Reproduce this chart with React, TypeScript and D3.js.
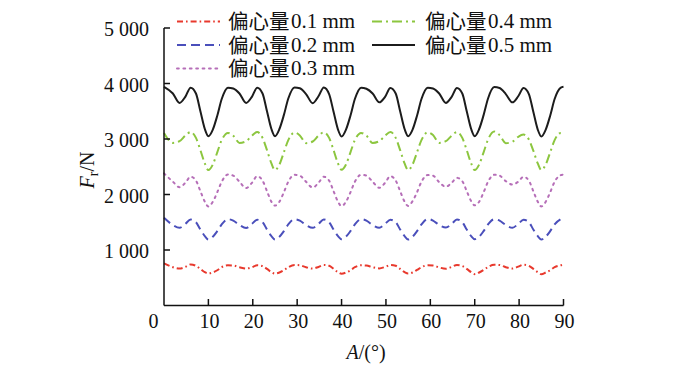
import React from "react";
import * as d3 from "d3";

const angles = [
  0, 2, 3.5, 4.8, 6, 7.2, 8.2, 9.2, 10,
  11, 12, 13, 14.4, 15.6, 17, 18.5, 19.8, 21, 22.2, 23.2, 24.2, 25,
  26, 27, 28, 29.4, 30.6, 32, 33.5, 34.8, 36, 37.2, 38.2, 39.2, 40,
  41, 42, 43, 44.4, 45.6, 47, 48.5, 49.8, 51, 52.2, 53.2, 54.2, 55,
  56, 57, 58, 59.4, 60.6, 62, 63.5, 64.8, 66, 67.2, 68.2, 69.2, 70,
  71, 72, 73, 74.4, 75.6, 77, 78.5, 79.8, 81, 82.2, 83.2, 84.2, 85,
  86, 87, 88, 89.4, 90,
];

const ecc05 = [
  3940, 3820, 3650, 3760, 3925, 3820, 3500, 3180, 3050,
  3170, 3420, 3720, 3925, 3910, 3820, 3650, 3760, 3925, 3820, 3500, 3180, 3050,
  3180, 3430, 3730, 3930, 3915, 3810, 3645, 3770, 3930, 3810, 3490, 3170, 3045,
  3170, 3420, 3720, 3925, 3905, 3820, 3660, 3760, 3920, 3820, 3500, 3180, 3050,
  3170, 3420, 3720, 3925, 3910, 3820, 3650, 3760, 3920, 3820, 3500, 3180, 3050,
  3180, 3430, 3730, 3935, 3920, 3810, 3660, 3770, 3920, 3810, 3490, 3170, 3045,
  3170, 3420, 3720, 3925, 3940,
];

const ecc04 = [
  3110, 2930, 2960, 3060, 3125, 3020, 2800, 2560, 2440,
  2540, 2760, 2980, 3110, 3060, 2930, 2960, 3060, 3125, 3020, 2800, 2560, 2440,
  2540, 2760, 2980, 3115, 3065, 2925, 2955, 3060, 3120, 3020, 2800, 2560, 2445,
  2540, 2760, 2980, 3110, 3060, 2930, 2960, 3060, 3125, 3020, 2800, 2560, 2440,
  2540, 2760, 2980, 3120, 3070, 2930, 2960, 3060, 3125, 3020, 2800, 2560, 2440,
  2540, 2760, 2990, 3135, 3070, 2925, 2950, 3040, 3080, 2990, 2790, 2560, 2440,
  2540, 2760, 2980, 3110, 3110,
];

const ecc03 = [
  2380, 2230, 2130, 2210, 2320, 2250, 2060, 1870, 1785,
  1870, 2040, 2230, 2360, 2340, 2230, 2115, 2210, 2330, 2250, 2060, 1870, 1800,
  1870, 2040, 2230, 2355, 2340, 2230, 2125, 2210, 2320, 2250, 2060, 1870, 1790,
  1870, 2040, 2230, 2355, 2340, 2230, 2120, 2210, 2330, 2250, 2060, 1870, 1795,
  1880, 2040, 2230, 2350, 2340, 2220, 2140, 2210, 2300, 2240, 2060, 1880, 1805,
  1870, 2040, 2230, 2355, 2340, 2240, 2180, 2230, 2320, 2250, 2060, 1870, 1785,
  1870, 2040, 2230, 2350, 2360,
];

const ecc02 = [
  1580, 1450, 1400, 1470, 1550, 1500, 1370, 1250, 1190,
  1240, 1340, 1460, 1555, 1530, 1450, 1395, 1470, 1545, 1500, 1370, 1250, 1190,
  1240, 1340, 1460, 1555, 1530, 1450, 1400, 1470, 1550, 1500, 1370, 1250, 1195,
  1240, 1340, 1460, 1555, 1530, 1450, 1400, 1470, 1545, 1500, 1370, 1250, 1190,
  1240, 1340, 1460, 1560, 1530, 1450, 1405, 1470, 1550, 1500, 1370, 1250, 1195,
  1240, 1340, 1460, 1555, 1530, 1450, 1400, 1470, 1545, 1500, 1370, 1250, 1190,
  1240, 1340, 1460, 1555, 1575,
];

const ecc01 = [
  760, 690, 665, 695, 740, 715, 660, 600, 578,
  595, 635, 690, 725, 720, 690, 665, 690, 725, 710, 660, 600, 575,
  595, 635, 690, 730, 725, 690, 665, 695, 730, 715, 660, 600, 572,
  595, 635, 690, 725, 720, 690, 668, 695, 730, 715, 660, 600, 575,
  595, 640, 690, 725, 720, 685, 662, 695, 730, 712, 660, 600, 565,
  595, 640, 695, 735, 730, 690, 665, 700, 735, 715, 660, 600, 565,
  595, 635, 690, 725, 735,
];

const xTicks = [10, 20, 30, 40, 50, 60, 70, 80, 90];
const yTicks = [1000, 2000, 3000, 4000, 5000];
const yTickLabels = ["1 000", "2 000", "3 000", "4 000", "5 000"];

const legendPrefix = "偏心量";
const seriesLabels = ["0.1 mm", "0.2 mm", "0.3 mm", "0.4 mm", "0.5 mm"];
const seriesValues = [ecc01, ecc02, ecc03, ecc04, ecc05];
const seriesColors = ["#e8392d", "#4a4fbb", "#b66fb8", "#8cc63f", "#1c1c1c"];
const seriesDash = ["6 3 1.6 3", "8 5", "1.8 4.6", "9 4 2 4", ""];
const legendDash = ["6 3 1.6 3", "9 5", "1.8 4.6", "10 4 2 4", ""];

const SERIF = "'Liberation Serif', 'Times New Roman', serif";
const CJK = "'Noto Sans CJK SC', sans-serif";

export default function App() {
  const W = 674;
  const H = 375;
  const x = d3.scaleLinear().domain([0, 90]).range([164, 563.5]);
  const y = d3.scaleLinear().domain([0, 5000]).range([305.5, 28]);

  const line = d3
    .line<[number, number]>()
    .x((d) => x(d[0]))
    .y((d) => y(d[1]))
    .curve(d3.curveMonotoneX);

  const legendPos = [
    { lx: 177, tx: 228, row: 0 },
    { lx: 177, tx: 228, row: 1 },
    { lx: 177, tx: 228, row: 2 },
    { lx: 372, tx: 425, row: 0 },
    { lx: 372, tx: 425, row: 1 },
  ];
  const rowBase = [28, 51.5, 75];

  return (
    <svg
      width={W}
      height={H}
      style={{ position: "absolute", left: 0, top: 0, background: "#fff" }}
      fontFamily={SERIF}
    >
      <rect width={W} height={H} fill="#fff" />
      {seriesValues.map((vals, i) => (
        <path
          key={i}
          d={line(angles.map((a, j) => [a, vals[j]] as [number, number])) || ""}
          fill="none"
          stroke={seriesColors[i]}
          strokeWidth={2}
          strokeDasharray={seriesDash[i] || undefined}
          strokeLinecap={i === 2 ? "round" : "butt"}
        />
      ))}
      <line x1={x(0)} x2={x(0)} y1={y(5000)} y2={y(0)} stroke="#111" strokeWidth={1.5} />
      <line x1={x(0)} x2={x(90)} y1={y(0)} y2={y(0)} stroke="#111" strokeWidth={1.5} />
      {yTicks.map((t, i) => (
        <g key={t}>
          <line x1={x(0)} x2={x(0) + 6} y1={y(t)} y2={y(t)} stroke="#111" strokeWidth={1.5} />
          <text x={149} y={y(t) + 8} textAnchor="end" fontSize={20} fill="#111">
            {yTickLabels[i]}
          </text>
        </g>
      ))}
      {xTicks.map((t) => (
        <g key={t}>
          <line x1={x(t)} x2={x(t)} y1={y(0)} y2={y(0) - 6.5} stroke="#111" strokeWidth={1.5} />
          <text x={x(t) + 1} y={328} textAnchor="middle" fontSize={20} fill="#111">
            {t}
          </text>
        </g>
      ))}
      <text x={153.5} y={328} textAnchor="middle" fontSize={20} fill="#111">
        0
      </text>
      <text x={366} y={359} textAnchor="middle" fontSize={20} fill="#111">
        <tspan fontStyle="italic">A</tspan>
        <tspan>/(°)</tspan>
      </text>
      <text transform="translate(94,170) rotate(-90)" textAnchor="middle" fontSize={20} fill="#111">
        <tspan fontStyle="italic">F</tspan>
        <tspan fontSize={14} dy={4}>r</tspan>
        <tspan dy={-4}>/N</tspan>
      </text>
      {legendPos.map((p, i) => {
        const base = rowBase[p.row];
        return (
          <g key={i}>
            <line
              x1={p.lx}
              x2={p.lx + 43}
              y1={base - 6.5}
              y2={base - 6.5}
              stroke={seriesColors[i]}
              strokeWidth={2}
              strokeDasharray={legendDash[i] || undefined}
              strokeLinecap={i === 2 ? "round" : "butt"}
            />
            <text x={p.tx} y={base + 1} fontSize={20.5} fontFamily={CJK} fill="#111">
              {legendPrefix}
            </text>
            <text x={p.tx + 63} y={base} fontSize={21} fill="#111">
              {seriesLabels[i]}
            </text>
          </g>
        );
      })}
    </svg>
  );
}
